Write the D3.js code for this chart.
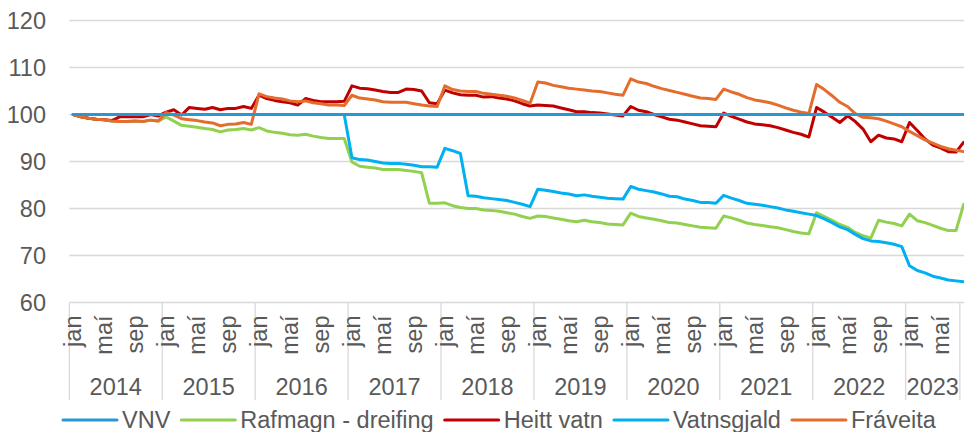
<!DOCTYPE html>
<html><head><meta charset="utf-8">
<script src="https://cdn.jsdelivr.net/npm/d3@7/dist/d3.min.js"></script>
<style>
body{margin:0;background:#fff}
svg{display:block}
text{font-family:"Liberation Sans",Arial,sans-serif;fill:#595959;font-size:23.5px}
</style>
</head><body>
<svg id="chart" width="964" height="432"></svg>
<script>
// ---------- data ----------
const years = ["2014","2015","2016","2017","2018","2019","2020","2021","2022","2023",""];
const monthsInYear = [12,12,12,12,12,12,12,12,12,7,1];
const monthNames = ["jan","feb","mar","apr","maí","jún","júl","ágú","sep","okt","nóv","des"];
const shownMonths = ["jan","maí","sep"];
const yTicks = [60,70,80,90,100,110,120];
const seriesNames = ["VNV","Rafmagn - dreifing","Heitt vatn","Vatnsgjald","Fráveita"];
const seriesColors = ["#2897d6","#92d050","#c00000","#00b0f0","#e46c2c"];

const vnv = [
 100,100,100,100,100,100,100,100,100,100,100,100,
 100,100,100,100,100,100,100,100,100,100,100,100,
 100,100,100,100,100,100,100,100,100,100,100,100,
 100,100,100,100,100,100,100,100,100,100,100,100,
 100,100,100,100,100,100,100,100,100,100,100,100,
 100,100,100,100,100,100,100,100,100,100,100,100,
 100,100,100,100,100,100,100,100,100,100,100,100,
 100,100,100,100,100,100,100,100,100,100,100,100,
 100,100,100,100,100,100,100,100,100,100,100,100,
 100,100,100,100,100,100,100,100];
const rafmagn = [
 100,99.5,99.2,99.0,98.9,98.6,98.5,98.5,98.6,98.5,98.8,98.6,
 99.5,98.6,97.7,97.5,97.3,97.0,96.8,96.3,96.7,96.8,97.0,96.7,
 97.2,96.5,96.2,96.0,95.7,95.6,95.8,95.4,95.1,94.9,94.9,94.9,
 89.9,89.0,88.8,88.6,88.3,88.3,88.3,88.1,87.9,87.6,81.1,81.1,
 81.2,80.6,80.2,80.0,80.0,79.7,79.6,79.4,79.1,78.8,78.3,77.9,
 78.4,78.3,78.0,77.7,77.4,77.2,77.5,77.2,77.0,76.7,76.6,76.5,
 79.0,78.3,78.0,77.7,77.4,77.0,76.9,76.6,76.3,76.0,75.9,75.8,
 78.4,78.0,77.5,76.9,76.6,76.4,76.1,75.9,75.5,75.1,74.8,74.6,
 79.1,78.3,77.5,76.6,76.0,74.9,74.2,73.7,77.5,77.1,76.8,76.3,
 78.8,77.4,77.0,76.4,75.8,75.3,75.3,80.9];
const heittVatn = [
 100,99.5,99.2,99.0,98.9,98.7,99.5,99.5,99.5,99.5,100.0,99.7,
 100.5,101.0,99.9,101.5,101.3,101.1,101.5,101.0,101.3,101.3,101.7,101.3,
 104.1,103.4,103.0,102.7,102.5,102.0,103.4,103.0,102.7,102.7,102.7,102.8,
 106.1,105.6,105.5,105.2,104.9,104.7,104.7,105.4,105.3,105.0,102.5,102.3,
 105.2,104.6,104.2,104.1,104.1,103.7,103.8,103.5,103.3,102.9,102.3,101.8,
 102.0,101.9,101.8,101.4,101.0,100.6,100.6,100.4,100.3,100.1,99.9,99.7,
 101.7,100.9,100.6,100.0,99.5,99.0,98.8,98.4,98.0,97.6,97.5,97.4,
 100.3,99.6,99.0,98.4,98.0,97.8,97.6,97.2,96.7,96.2,95.8,95.2,
 101.5,100.5,99.4,98.3,99.7,98.5,96.9,94.2,95.6,95.0,94.8,94.2,
 98.3,96.6,94.8,93.5,92.9,92.1,92.0,94.1];
const vatnsgjald = [
 100,100,100,100,100,100,100,100,100,100,100,100,
 100,100,100,100,100,100,100,100,100,100,100,100,
 100,100,100,100,100,100,100,100,100,100,100,100,
 90.8,90.4,90.3,90.0,89.7,89.6,89.6,89.4,89.2,88.9,88.9,88.8,
 92.8,92.3,91.7,82.7,82.6,82.3,82.1,81.9,81.7,81.3,80.9,80.4,
 84.1,83.9,83.6,83.3,83.1,82.7,82.9,82.6,82.4,82.2,82.1,82.0,
 84.7,84.1,83.8,83.5,83.1,82.6,82.5,82.0,81.7,81.3,81.3,81.1,
 82.8,82.2,81.7,81.1,80.9,80.7,80.4,80.1,79.7,79.4,79.1,78.8,
 78.5,77.8,77.0,76.1,75.5,74.5,73.6,73.1,73.0,72.7,72.4,71.9,
 67.8,66.8,66.3,65.6,65.2,64.8,64.6,64.4];
const fraveita = [
 100,99.5,99.2,99.0,98.9,98.6,98.5,98.5,98.6,98.5,98.8,98.6,
 100.4,99.9,99.1,98.9,98.7,98.4,98.2,97.6,97.9,98.0,98.3,97.9,
 104.4,103.8,103.5,103.3,102.9,102.7,102.9,102.5,102.3,102.0,102.0,101.9,
 104.1,103.5,103.3,103.1,102.7,102.6,102.6,102.6,102.3,102.0,101.8,101.7,
 106.1,105.3,105.0,104.9,104.9,104.5,104.3,104.1,103.9,103.5,103.0,102.4,
 106.9,106.7,106.2,105.9,105.6,105.4,105.2,105.0,104.9,104.6,104.3,104.1,
 107.6,106.9,106.6,106.0,105.5,105.1,104.7,104.3,103.9,103.5,103.4,103.2,
 105.4,104.8,104.3,103.6,103.1,102.8,102.5,102.0,101.4,100.9,100.5,100.2,
 106.4,105.3,104.0,102.6,101.7,100.2,99.4,99.3,99.1,98.6,98.0,97.4,
 96.4,95.5,94.6,93.9,93.2,92.7,92.4,92.1];

// ---------- build categories ----------
const categories = [];
years.forEach((yr, g) => {
  for (let m = 0; m < monthsInYear[g]; m++) {
    categories.push({year: yr, group: g, month: yr === "" ? "" : monthNames[m]});
  }
});
const seriesData = [vnv, rafmagn, heittVatn, vatnsgjald, fraveita];

// ---------- layout ----------
const W = 964, H = 432;
const left = 69.3, step = 7.744;
const plotTop = 20.5, plotBottom = 302.5;
const svg = d3.select("#chart");

const x = d3.scaleBand().domain(d3.range(categories.length))
  .range([left, left + categories.length * step]).padding(0);
const cx = i => x(i) + x.bandwidth() / 2;
const y = d3.scaleLinear().domain([60, 120]).range([plotBottom, plotTop]);

// gridlines
svg.append("g").selectAll("line").data(yTicks).join("line")
  .attr("x1", left).attr("x2", W)
  .attr("y1", d => y(d)).attr("y2", d => y(d))
  .attr("stroke", "#d9d9d9").attr("stroke-width", 1.3);

// y axis labels
const yAxis = d3.axisLeft(y).tickValues(yTicks).tickSize(0).tickPadding(0);
const ya = svg.append("g").attr("transform", "translate(46,0)").call(yAxis);
ya.select(".domain").remove();
ya.selectAll("text").attr("font-size", null).attr("font-family", null)
  .attr("fill", "#595959").attr("dy", "0.35em").attr("x", 0);
ya.attr("font-size", null).attr("font-family", null);

// group separator lines
const groupStarts = [];
let acc = 0;
monthsInYear.forEach((n, g) => { groupStarts.push({g, start: acc, n}); acc += n; });
const bounds = groupStarts.map(d => d.start).concat([acc]);
svg.append("g").selectAll("line").data(bounds).join("line")
  .attr("x1", d => left + d * step).attr("x2", d => left + d * step)
  .attr("y1", plotBottom).attr("y2", 400)
  .attr("stroke", "#d9d9d9").attr("stroke-width", 1.3);

// month labels
svg.append("g").selectAll("text")
  .data(categories.map((c, i) => ({c, i})).filter(d => shownMonths.includes(d.c.month)))
  .join("text")
  .attr("transform", d => `translate(${cx(d.i)},315.5) rotate(-90)`)
  .attr("text-anchor", "end").attr("dy", "0.35em")
  .text(d => d.c.month);

// year labels
svg.append("g").selectAll("text")
  .data(groupStarts.filter(d => years[d.g] !== ""))
  .join("text")
  .attr("x", d => left + (d.start + d.n / 2) * step)
  .attr("y", 395).attr("text-anchor", "middle")
  .text(d => years[d.g]);

// series lines
const line = d3.line().x((d, i) => cx(i)).y(d => y(d));
const drawOrder = [1, 2, 3, 4, 0];
svg.append("g").selectAll("path").data(drawOrder).join("path")
  .attr("d", k => line(seriesData[k]))
  .attr("fill", "none").attr("stroke", k => seriesColors[k])
  .attr("stroke-width", 3).attr("stroke-linejoin", "round").attr("stroke-linecap", "round");

// legend
const lg = svg.append("g");
let lx = 63;
seriesNames.forEach((name, k) => {
  lg.append("line").attr("x1", lx).attr("x2", lx + 54).attr("y1", 420).attr("y2", 420)
    .attr("stroke", seriesColors[k]).attr("stroke-width", 3).attr("stroke-linecap", "round");
  const t = lg.append("text").attr("x", lx + 59).attr("y", 420).attr("dy", "0.35em").text(name);
  lx = lx + 59 + t.node().getComputedTextLength() + 11;
});
</script>
</body></html>
